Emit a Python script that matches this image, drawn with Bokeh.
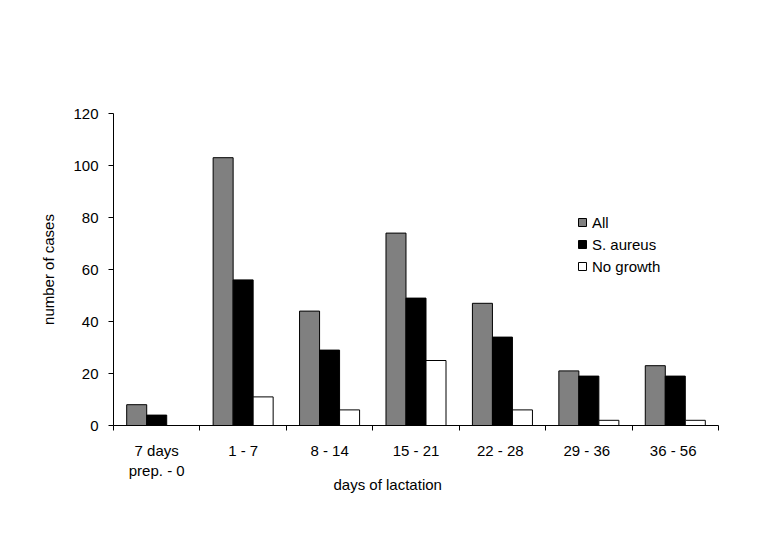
from bokeh.plotting import figure
from bokeh.models import FixedTicker, Range1d, Legend, LegendItem, Title, ColumnDataSource
from bokeh.embed import file_html
from bokeh.resources import INLINE

categories = ["7 days\nprep. - 0", "1 - 7", "8 - 14", "15 - 21", "22 -  28", "29 -  36", "36 -  56"]
series_names = ["All", "S. aureus", "No growth"]
all_cases = [8, 103, 44, 74, 47, 21, 23]
s_aureus = [4, 56, 29, 49, 34, 19, 19]
no_growth = [0, 11, 6, 25, 6, 2, 2]
y_ticks = [0, 20, 40, 60, 80, 100, 120]

FONT = "Liberation Sans"
FS = "15px"
colors = ["#808080", "#000000", "#ffffff"]
bar_w = 0.2315

p = figure(width=764, height=524, output_backend="svg", toolbar_location=None,
           x_range=Range1d(0, len(categories)), y_range=Range1d(0, 120),
           min_border_left=113, min_border_right=46, min_border_top=113, min_border_bottom=99)
p.outline_line_color = None
p.xgrid.visible = False
p.ygrid.visible = False
p.background_fill_color = "white"
p.border_fill_color = "white"

renderers = []
for k, (name, vals) in enumerate(zip(series_names, [all_cases, s_aureus, no_growth])):
    xs = [i + 0.5 + (k - 1) * bar_w for i in range(len(categories))]
    src = ColumnDataSource(dict(x=xs, top=vals))
    r = p.vbar(x="x", top="top", width=bar_w, bottom=0, source=src,
               fill_color=colors[k], line_color="black", line_width=1)
    renderers.append((name, r))

# x axis: labels at centers, ticks at category boundaries
centers = [i + 0.5 for i in range(len(categories))]
p.xaxis.ticker = FixedTicker(ticks=centers, minor_ticks=list(range(len(categories) + 1)))
p.xaxis.major_label_overrides = {c: lab for c, lab in zip(centers, categories)}
p.xaxis.major_tick_out = 0
p.xaxis.major_tick_in = 0
p.xaxis.minor_tick_out = 5
p.xaxis.minor_tick_in = 0
p.xaxis.minor_tick_line_color = "black"
p.xaxis.axis_line_color = "black"
p.xaxis.major_label_text_font = FONT
p.xaxis.major_label_text_font_size = FS
p.xaxis.major_label_text_color = "black"
p.xaxis.major_label_standoff = 11

p.yaxis.ticker = FixedTicker(ticks=y_ticks, minor_ticks=[])
p.yaxis.major_tick_out = 5
p.yaxis.major_tick_in = 0
p.yaxis.minor_tick_line_color = None
p.yaxis.axis_line_color = "black"
p.yaxis.major_label_text_font = FONT
p.yaxis.major_label_text_font_size = FS
p.yaxis.major_label_text_color = "black"
p.yaxis.major_label_standoff = 10
p.yaxis.axis_label = "number of cases"
p.yaxis.axis_label_text_font = FONT
p.yaxis.axis_label_text_font_size = FS
p.yaxis.axis_label_text_font_style = "normal"
p.yaxis.axis_label_text_color = "black"
p.yaxis.axis_label_standoff = 13

xt = Title(text="days of lactation", align="left", offset=220, standoff=-16,
           text_font=FONT, text_font_size=FS, text_font_style="normal", text_color="black")
p.add_layout(xt, "below")

legend = Legend(items=[LegendItem(label=n, renderers=[r]) for n, r in renderers],
                location=(464, 149), orientation="vertical",
                glyph_width=10, glyph_height=10, label_standoff=5, spacing=2,
                padding=0, margin=0, border_line_color=None, background_fill_alpha=0,
                label_text_font=FONT, label_text_font_size=FS, label_text_color="black",
                label_height=20)
p.add_layout(legend, "center")

open("out.html", "w").write(file_html(p, INLINE))
